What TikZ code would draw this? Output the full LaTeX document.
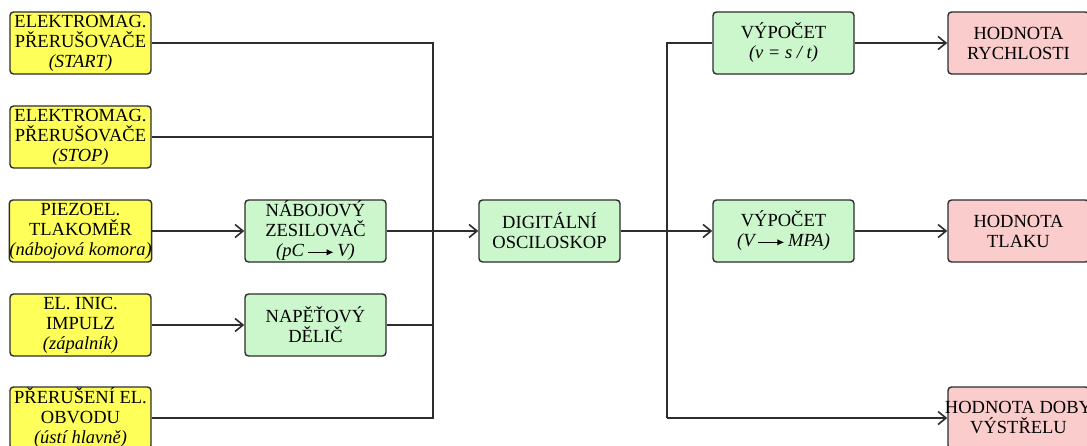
\documentclass[tikz,border=0pt]{standalone}
\usepackage{fontspec}
\setmainfont{Liberation Serif}
\usetikzlibrary{arrows.meta}
\definecolor{inyellow}{RGB}{255,255,90}
\definecolor{procgreen}{RGB}{204,247,204}
\definecolor{outred}{RGB}{250,204,204}
\definecolor{edgegray}{RGB}{45,45,45}
\newcommand\txtarr{\,\tikz[baseline=-0.55ex]\draw[line width=1.4pt,-{Latex[length=7pt,width=6.5pt]}] (0pt,0pt)--(26pt,0pt);\,}
\begin{document}
\begin{tikzpicture}[x=1pt,y=-1pt,
  box/.style={draw=edgegray, line width=1.4pt, rounded corners=3.5pt, minimum width=141pt, minimum height=62pt, inner sep=0pt, align=center, font=\fontsize{18.5}{20}\selectfont},
  inbox/.style={box, fill=inyellow},
  procbox/.style={box, fill=procgreen},
  outbox/.style={box, fill=outred},
  conn/.style={line width=1.2pt, draw=edgegray},
  arr/.style={conn, -{Straight Barb[length=8pt,width=13pt,line width=1.6pt]}}
]
\useasboundingbox (0,0) rectangle (1087,445);
\clip (0,0) rectangle (1087,445);
\fill[white] (0,0) rectangle (1087,445);

\node[inbox] (a1) at (80.5,43) {ELEKTROMAG.\\PŘERUŠOVAČE\\\textit{(START)}};
\node[inbox] (a2) at (80.5,137) {ELEKTROMAG.\\PŘERUŠOVAČE\\\textit{(STOP)}};
\node[inbox] (a3) at (80.5,231) {PIEZOEL.\\TLAKOMĚR\\\textit{(nábojová komora)}};
\node[inbox] (a4) at (80.5,325) {EL. INIC.\\IMPULZ\\\textit{(zápalník)}};
\node[inbox] (a5) at (80.5,418) {PŘERUŠENÍ EL.\\OBVODU\\\textit{(ústí hlavně)}};

\node[procbox] (b1) at (315.5,231) {NÁBOJOVÝ\\ZESILOVAČ\\\textit{(pC\txtarr V)}};
\node[procbox] (b2) at (315.5,325) {NAPĚŤOVÝ\\DĚLIČ};

\node[procbox] (osc) at (549.5,231) {DIGITÁLNÍ\\OSCILOSKOP};

\node[procbox] (c1) at (783.5,43) {VÝPOČET\\\textit{(v = s / t)}};
\node[procbox] (c2) at (783.5,231) {VÝPOČET\\\textit{(V\txtarr MPA)}};

\node[outbox] (d1) at (1018.5,43) {HODNOTA\\RYCHLOSTI};
\node[outbox] (d2) at (1018.5,231) {HODNOTA\\TLAKU};
\node[outbox] (d3) at (1018.5,418) {\makebox[141pt]{HODNOTA DOBY}\\VÝSTŘELU};

\coordinate (bus) at (433,0);
\coordinate (rbus) at (667,0);

% left collector
\draw[conn] (a1.east) -- (a1.east -| bus) -- (a5.east -| bus) -- (a5.east);
\draw[conn] (a2.east) -- (a2.east -| bus);
\draw[conn] (b2.east) -- (b2.east -| bus);
\draw[arr] (a3.east) -- (b1.west);
\draw[arr] (a4.east) -- (b2.west);
\draw[arr] (b1.east) -- (osc.west);

% right distributor
\draw[conn] (c1.west) -- (c1.west -| rbus) -- (d3.west -| rbus);
\draw[arr] (d3.west -| rbus) -- (d3.west);
\draw[arr] (osc.east) -- (c2.west);
\draw[arr] (c1.east) -- (d1.west);
\draw[arr] (c2.east) -- (d2.west);
\end{tikzpicture}
\end{document}
